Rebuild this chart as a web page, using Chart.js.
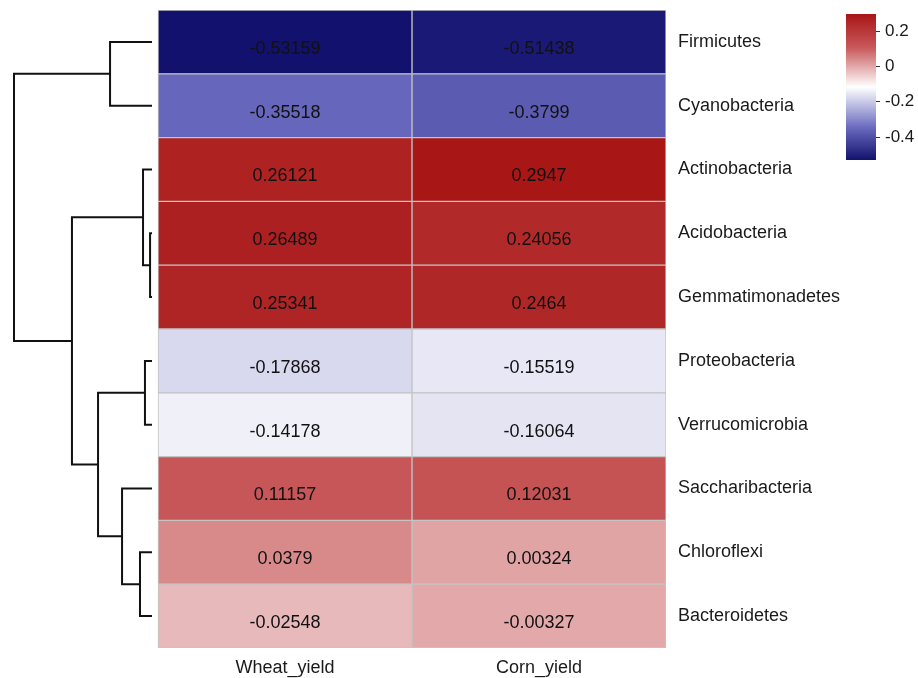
<!DOCTYPE html>
<html>
<head>
<meta charset="utf-8">
<script src="https://cdn.jsdelivr.net/npm/chart.js@4.4.1/dist/chart.umd.min.js"></script>
<style>
  html, body { margin: 0; padding: 0; background: #fff; }
  #wrap { position: relative; width: 918px; height: 678px; }
  #heat { position: absolute; left: 0; top: 0; }
  #colorbar { position: absolute; left: 840px; top: 0; }
</style>
</head>
<body>
<div id="wrap">
  <canvas id="heat" width="918" height="678"></canvas>
  <canvas id="colorbar" width="78" height="170"></canvas>
</div>
<script>
const rowLabels = ['Firmicutes', 'Cyanobacteria', 'Actinobacteria', 'Acidobacteria', 'Gemmatimonadetes',
  'Proteobacteria', 'Verrucomicrobia', 'Saccharibacteria', 'Chloroflexi', 'Bacteroidetes'];
const colLabels = ['Wheat_yield', 'Corn_yield'];
const wheatValues = [-0.53159, -0.35518, 0.26121, 0.26489, 0.25341, -0.17868, -0.14178, 0.11157, 0.0379, -0.02548];
const cornValues = [-0.51438, -0.3799, 0.2947, 0.24056, 0.2464, -0.15519, -0.16064, 0.12031, 0.00324, -0.00327];
const legendTicks = [0.2, 0, -0.2, -0.4];

// row clustering, hclust style: negative = leaf (row number), positive = earlier merge
const mergeA = [-4, -6, -3, -9, -8, -1, 2, 3, 6];
const mergeB = [-5, -7, 1, -10, 4, -2, 5, 7, 8];
const mergeHeight = [0.014, 0.051, 0.065, 0.087, 0.217, 0.304, 0.391, 0.58, 1.0];

// layout (pixels)
const W = 918, H = 678;
const heatLeft = 158, heatRight = 666, heatTop = 10, heatBottom = 648;
const leafX = 152, rootX = 14;
const FONT = "'Liberation Sans', Arial, sans-serif";

Chart.defaults.font.family = FONT;
Chart.defaults.color = '#1a1a1a';

const allValues = wheatValues.concat(cornValues);
const vMin = Math.min(...allValues);
const vMax = Math.max(...allValues);

// navy - white - firebrick ramp over the data range
const paletteStops = [0, 0.22, 0.5, 0.77, 1];
const paletteColors = [[18, 18, 110], [105, 105, 190], [255, 255, 255], [200, 88, 90], [168, 22, 22]];

function colorFor(v) {
  const t = Math.min(Math.max((v - vMin) / (vMax - vMin), 0), 1);
  let k = 0;
  while (k < paletteStops.length - 2 && t > paletteStops[k + 1]) k++;
  const f = (t - paletteStops[k]) / (paletteStops[k + 1] - paletteStops[k]);
  const a = paletteColors[k], b = paletteColors[k + 1];
  const c = a.map((x, i) => Math.round(x + (b[i] - x) * f));
  return `rgb(${c[0]},${c[1]},${c[2]})`;
}

// dendrogram links from the merge table
const nodes = [];
const links = [];
const nodeOf = (id) => id < 0 ? { h: 0, y: -id - 1 } : nodes[id - 1];
mergeA.forEach((a, i) => {
  const A = nodeOf(a), B = nodeOf(mergeB[i]), h = mergeHeight[i];
  nodes.push({ h, y: (A.y + B.y) / 2 });
  links.push([{ x: A.h, y: A.y }, { x: h, y: A.y }, { x: h, y: B.y }, { x: B.h, y: B.y }]);
});

const colW = (heatRight - heatLeft) / colLabels.length;
const rootH = Math.max(...mergeHeight);
const ppu = (leafX - rootX) / rootH;

// cell numbers plus row / column labels, placed with the chart's scales
const heatText = {
  id: 'heatText',
  afterDatasetsDraw(chart) {
    const ctx = chart.ctx;
    const xs = chart.scales.x, ys = chart.scales.y;
    ctx.save();
    ctx.font = `18px ${FONT}`;
    ctx.fillStyle = '#111';
    ctx.textAlign = 'center';
    ctx.textBaseline = 'middle';
    chart.data.datasets.forEach((ds, i) => {
      if (!ds.cellValues) return;
      chart.getDatasetMeta(i).data.forEach((bar, j) => {
        ctx.fillText(String(ds.cellValues[j]), (bar.x + bar.base) / 2, bar.y + 7);
      });
    });
    ctx.fillStyle = '#1a1a1a';
    colLabels.forEach((lab, i) => {
      ctx.fillText(lab, xs.getPixelForValue(i + 0.5), chart.chartArea.bottom + 20);
    });
    ctx.textAlign = 'left';
    rowLabels.forEach((lab, i) => {
      ctx.fillText(lab, chart.chartArea.right + 12, ys.getPixelForValue(i));
    });
    ctx.restore();
  }
};

const heatDatasets = [wheatValues, cornValues].map((vals, c) => ({
  type: 'bar',
  indexAxis: 'y',
  xAxisID: 'x',
  yAxisID: 'y',
  data: vals.map(() => [c, c + 1]),
  cellValues: vals,
  backgroundColor: vals.map(colorFor),
  borderColor: '#c4c4c4',
  borderWidth: 1,
  borderSkipped: false,
  grouped: false,
  barPercentage: 1,
  categoryPercentage: 1,
}));

const linkDatasets = links.map(pts => ({
  type: 'line',
  indexAxis: 'x',
  xAxisID: 'xd',
  yAxisID: 'yd',
  data: pts,
  borderColor: '#111',
  borderWidth: 2,
  borderJoinStyle: 'miter',
  pointRadius: 0,
  tension: 0,
  fill: false,
  clip: false,
}));

new Chart(document.getElementById('heat'), {
  type: 'bar',
  data: { labels: rowLabels, datasets: heatDatasets.concat(linkDatasets) },
  options: {
    responsive: false,
    animation: false,
    layout: { padding: { top: heatTop, left: 0, right: W - heatRight, bottom: H - heatBottom } },
    plugins: { legend: { display: false }, tooltip: { enabled: false } },
    scales: {
      x: { type: 'linear', display: false, offset: false, min: -heatLeft / colW, max: colLabels.length },
      y: { type: 'category', display: false, offset: true },
      xd: {
        type: 'linear',
        display: false,
        offset: false,
        reverse: true,
        min: -(heatRight - leafX) / ppu,
        max: leafX / ppu,
      },
      yd: {
        type: 'linear',
        display: false,
        offset: false,
        reverse: true,
        min: -0.5,
        max: rowLabels.length - 0.5,
      },
    },
  },
  plugins: [heatText],
});

// colour key: one floating bar with the palette as gradient
const keyTicks = {
  id: 'keyTicks',
  afterDatasetsDraw(chart) {
    const ctx = chart.ctx, ys = chart.scales.y, right = chart.chartArea.right;
    ctx.save();
    ctx.strokeStyle = '#333';
    ctx.lineWidth = 1;
    ctx.fillStyle = '#1a1a1a';
    ctx.font = `17px ${FONT}`;
    ctx.textAlign = 'left';
    ctx.textBaseline = 'middle';
    legendTicks.forEach(v => {
      const y = Math.round(ys.getPixelForValue(v)) + 0.5;
      ctx.beginPath();
      ctx.moveTo(right, y);
      ctx.lineTo(right + 4, y);
      ctx.stroke();
      ctx.fillText(v === 0 ? '0' : v.toFixed(1), right + 9, y);
    });
    ctx.restore();
  }
};

new Chart(document.getElementById('colorbar'), {
  type: 'bar',
  data: {
    labels: [''],
    datasets: [{
      data: [[vMin, vMax]],
      backgroundColor: (ctx) => {
        const area = ctx.chart.chartArea;
        if (!area) return null;
        const g = ctx.chart.ctx.createLinearGradient(0, area.bottom, 0, area.top);
        for (let i = 0; i <= 40; i++) {
          g.addColorStop(i / 40, colorFor(vMin + (vMax - vMin) * i / 40));
        }
        return g;
      },
      borderWidth: 0,
      barPercentage: 1,
      categoryPercentage: 1,
    }],
  },
  options: {
    responsive: false,
    animation: false,
    layout: { padding: { left: 6, top: 14, bottom: 10, right: 42 } },
    plugins: { legend: { display: false }, tooltip: { enabled: false } },
    scales: {
      x: { display: false },
      y: { display: false, min: vMin, max: vMax },
    },
  },
  plugins: [keyTicks],
});
</script>
</body>
</html>
